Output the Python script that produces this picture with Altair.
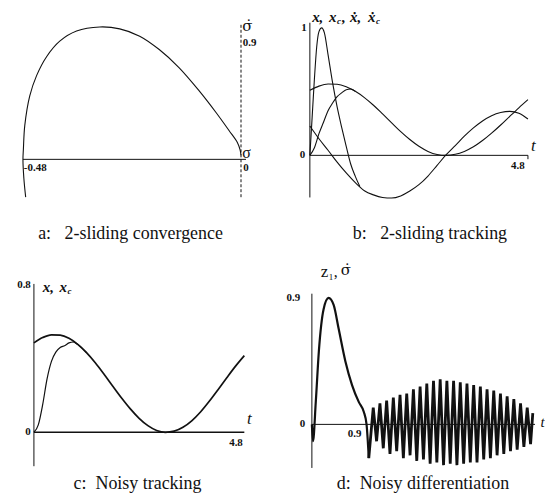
import altair as alt
import pandas as pd

FONT = "Liberation Serif"
MARK_FONT = "DejaVu Serif"

# ---------------- panel a: phase trajectory (sigma, sigma_dot)
a_sigma = [-0.474, -0.478, -0.480, -0.479, -0.476, -0.465, -0.450, -0.428, -0.399, -0.362,
           -0.311, -0.267, -0.223, -0.180, -0.136, -0.092, -0.055, -0.026, -0.008, -0.002, 0.0]
a_sdot = [-0.28, -0.14, 0.0, 0.076, 0.25, 0.47, 0.62, 0.76, 0.875, 0.95,
          0.98, 0.966, 0.912, 0.813, 0.678, 0.507, 0.347, 0.212, 0.125, 0.07, 0.03]

# ---------------- panel b: 2-sliding tracking
b_t = [0.0, 0.2, 0.4, 0.6, 0.8, 1.0, 1.2, 1.4, 1.6, 1.8, 2.0, 2.2, 2.4, 2.6, 2.8, 3.0,
       3.2, 3.4, 3.6, 3.8, 4.0, 4.2, 4.4, 4.6, 4.8]
b_xc = [0.511, 0.543, 0.559, 0.557, 0.538, 0.502, 0.453, 0.393, 0.325, 0.255, 0.186, 0.124,
        0.071, 0.031, 0.007, 0.000, 0.008, 0.031, 0.067, 0.116, 0.174, 0.238, 0.306, 0.373, 0.437]
b_xcdot = [0.23, 0.13, 0.04, -0.053, -0.138, -0.214, -0.277, -0.31, -0.33, -0.335, -0.318, -0.28,
           -0.23, -0.162, -0.079, 0.005, 0.077, 0.15, 0.215, 0.27, 0.311, 0.336, 0.345, 0.33, 0.285]
b_x_t = [0.0, 0.1, 0.2, 0.3, 0.4, 0.5, 0.6, 0.7, 0.8, 0.9, 1.0]
b_x = [0.0, 0.06, 0.17, 0.26, 0.35, 0.41, 0.46, 0.49, 0.515, 0.52, 0.502]
b_xdot_t = [0.0, 0.05, 0.1, 0.15, 0.2, 0.26, 0.32, 0.4, 0.5, 0.6, 0.7, 0.8, 0.9, 1.0, 1.1]
b_xdot = [0.0, 0.3, 0.6, 0.85, 0.97, 1.0, 0.96, 0.79, 0.57, 0.38, 0.22, 0.07, -0.07, -0.165, -0.245]

# ---------------- panel c: noisy tracking
c_t = b_t
c_xc = [0.485, 0.514, 0.529, 0.527, 0.510, 0.477, 0.432, 0.377, 0.315, 0.250, 0.186, 0.127,
        0.076, 0.036, 0.010, 0.000, 0.006, 0.027, 0.062, 0.110, 0.168, 0.231, 0.296, 0.359, 0.416]
c_x_t = [0.0, 0.1, 0.2, 0.3, 0.4, 0.5, 0.6, 0.7, 0.8, 0.9, 1.0, 1.2]
c_x = [0.0, 0.04, 0.15, 0.29, 0.385, 0.435, 0.46, 0.47, 0.485, 0.49, 0.477, 0.432]

# ---------------- panel d: noisy differentiation
d_t = [0, 0.02, 0.07, 0.125, 0.21, 0.30, 0.39, 0.48, 0.60, 0.72, 0.84, 0.93, 0.98, 1.02,
       1.10, 1.16, 1.22, 1.28, 1.34, 1.40, 1.46, 1.52, 1.58, 1.64, 1.70, 1.76, 1.82, 1.88,
       1.94, 2.00, 2.06, 2.12, 2.18, 2.24, 2.30, 2.36, 2.42, 2.48, 2.54, 2.60, 2.66, 2.72,
       2.78, 2.84, 2.90, 2.96, 3.02, 3.08, 3.14, 3.20, 3.26, 3.32, 3.38, 3.44, 3.50, 3.56,
       3.62, 3.68, 3.74, 3.80, 3.86, 3.92, 3.96]
d_v = [0, -0.12, 0.16, 0.52, 0.82, 0.90, 0.85, 0.68, 0.45, 0.28, 0.16, 0.09, 0.0, -0.24,
       0.12, -0.12, 0.15, -0.17, 0.17, -0.21, 0.19, -0.19, 0.21, -0.24, 0.22, -0.22, 0.25,
       -0.26, 0.27, -0.25, 0.29, -0.28, 0.31, -0.27, 0.32, -0.29, 0.31, -0.28, 0.31, -0.29,
       0.30, -0.28, 0.29, -0.27, 0.28, -0.27, 0.27, -0.25, 0.25, -0.24, 0.24, -0.22, 0.22,
       -0.21, 0.20, -0.19, 0.18, -0.18, 0.15, -0.16, 0.12, -0.14, 0.08]
D_SMOOTH_END = 14

NB = "\u00a0"
SIGMA_DOT = "σ\u0307"
CAPTIONS = ["a:" + NB * 3 + "2-sliding convergence", "b:" + NB * 3 + "2-sliding tracking",
            "c:" + NB * 2 + "Noisy tracking", "d:" + NB * 2 + "Noisy differentiation"]


def sc(lo, hi):
    return alt.Scale(domain=[lo, hi], nice=False, zero=False)


def curve(t, v, xs, ys, width=1.1, interp="monotone"):
    df = pd.DataFrame({"x": t, "y": v, "i": list(range(len(t)))})
    return alt.Chart(df).mark_line(color="#111", strokeWidth=width, interpolate=interp).encode(
        x=alt.X("x:Q", scale=xs, axis=None),
        y=alt.Y("y:Q", scale=ys, axis=None),
        order="i:Q")


def hrule(x1, x2, y, xs, ys, dash=None, width=1.0):
    df = pd.DataFrame({"x": [x1], "x2": [x2], "y": [y]})
    kw = dict(color="#111", strokeWidth=width)
    if dash:
        kw["strokeDash"] = dash
    return alt.Chart(df).mark_rule(**kw).encode(
        x=alt.X("x:Q", scale=xs, axis=None), x2="x2:Q",
        y=alt.Y("y:Q", scale=ys, axis=None))


def vrule(x, y1, y2, xs, ys, dash=None, width=1.0):
    df = pd.DataFrame({"x": [x], "y": [y1], "y2": [y2]})
    kw = dict(color="#111", strokeWidth=width)
    if dash:
        kw["strokeDash"] = dash
    return alt.Chart(df).mark_rule(**kw).encode(
        x=alt.X("x:Q", scale=xs, axis=None),
        y=alt.Y("y:Q", scale=ys, axis=None), y2="y2:Q")


def label(x, y, text, xs, ys, size=11, weight="bold", style="normal", align="left",
          dx=0, dy=0, font=FONT):
    df = pd.DataFrame({"x": [x], "y": [y], "t": [text]})
    return alt.Chart(df).mark_text(font=font, fontSize=size, fontWeight=weight, fontStyle=style,
                                   align=align, baseline="middle", dx=dx, dy=dy,
                                   color="#111").encode(
        x=alt.X("x:Q", scale=xs, axis=None),
        y=alt.Y("y:Q", scale=ys, axis=None),
        text="t:N")


def caption(text, offset, dx):
    return alt.TitleParams(text=text, orient="bottom", anchor="middle", font=FONT,
                           fontSize=18, fontWeight="normal", color="#111",
                           offset=offset, dx=dx)


# ---------- panel a
xa, ya = sc(-0.5129, 0.0573), sc(-0.317, 1.099)
pa = alt.layer(
    hrule(-0.48, 0.011, 0, xa, ya),
    vrule(0, -0.28, 1.01, xa, ya, dash=[3, 2]),
    curve(a_sigma, a_sdot, xa, ya, width=1.1, interp="catmull-rom"),
    label(0.004, 0.86, "0.9", xa, ya),
    label(-0.478, -0.066, "-0.48", xa, ya),
    label(0.005, -0.066, "0", xa, ya),
    label(0.003, 0.05, "σ", xa, ya, size=16, weight="normal"),
    label(0.003, 0.99, SIGMA_DOT, xa, ya, size=15, weight="normal", font=MARK_FONT),
).properties(width=260, height=192, title=caption(CAPTIONS[0], 23, -7))

# ---------- panel b
xb, yb = sc(-0.7675, 5.1316), sc(-0.3672, 1.1328)
pb = alt.layer(
    hrule(0, 4.8, 0, xb, yb),
    vrule(0, -0.33, 1.04, xb, yb),
    vrule(4.8, 0, -0.03, xb, yb),
    curve(b_t, b_xc, xb, yb),
    curve(b_t, b_xcdot, xb, yb),
    curve(b_x_t, b_x, xb, yb),
    curve(b_xdot_t, b_xdot, xb, yb),
    label(-0.07, 1.0, "1", xb, yb, align="right"),
    label(-0.1, 0.0, "0", xb, yb, align="right"),
    label(4.58, -0.08, "4.8", xb, yb, align="center"),
    label(4.87, 0.07, "t", xb, yb, size=17, weight="normal", style="italic"),
    label(0.05, 1.086, "x,", xb, yb, size=15, style="italic"),
    label(0.05, 1.086, "x", xb, yb, size=15, style="italic", dx=17),
    label(0.05, 1.086, "c", xb, yb, size=9, style="italic", dx=25, dy=4),
    label(0.05, 1.086, ",", xb, yb, size=15, style="italic", dx=30),
    label(0.05, 1.086, "ẋ,", xb, yb, size=15, style="italic", dx=38),
    label(0.05, 1.086, "ẋ", xb, yb, size=15, style="italic", dx=56),
    label(0.05, 1.086, "c", xb, yb, size=9, style="italic", dx=64, dy=4),
).properties(width=269, height=192, title=caption(CAPTIONS[1], 23, 21))

# ---------- panel c
xc, yc = sc(-0.591, 5.318), sc(-0.211, 0.935)
pc = alt.layer(
    hrule(0, 4.8, 0, xc, yc, width=1.4),
    vrule(0, -0.184, 0.805, xc, yc),
    curve(c_t, c_xc, xc, yc, width=1.7),
    curve(c_x_t, c_x, xc, yc, width=1.2),
    label(-0.07, 0.8, "0.8", xc, yc, align="right"),
    label(-0.07, 0.0, "0", xc, yc, align="right"),
    label(4.61, -0.06, "4.8", xc, yc, align="center"),
    label(4.86, 0.07, "t", xc, yc, size=17, weight="normal", style="italic"),
    label(0.2, 0.79, "x,", xc, yc, size=15, style="italic"),
    label(0.2, 0.79, "x", xc, yc, size=15, style="italic", dx=17),
    label(0.2, 0.79, "c", xc, yc, size=9, style="italic", dx=25, dy=4),
).properties(width=260, height=212, title=caption(CAPTIONS[2], 4, 0))

# ---------- panel d
xd, yd = sc(-0.661, 4.143), sc(-0.333, 1.170)
pd_ = alt.layer(
    hrule(0, 4.0, 0, xd, yd),
    vrule(0, -0.31, 0.93, xd, yd),
    curve(d_t[:D_SMOOTH_END], d_v[:D_SMOOTH_END], xd, yd, width=2.2),
    curve(d_t[D_SMOOTH_END - 1:], d_v[D_SMOOTH_END - 1:], xd, yd, width=2.8, interp="linear"),
    label(-0.21, 0.9, "0.9", xd, yd, align="right"),
    label(-0.12, 0.0, "0", xd, yd, align="right"),
    label(0.89, -0.065, "0.9", xd, yd, align="right"),
    label(4.1, 0.02, "t", xd, yd, size=15, weight="normal", style="italic"),
    label(0.16, 1.10, "z", xd, yd, size=17, weight="normal", dy=2),
    label(0.16, 1.10, "1", xd, yd, size=9, weight="normal", dx=8, dy=7),
    label(0.16, 1.10, ",", xd, yd, size=16, weight="normal", dx=13, dy=2),
    label(0.16, 1.10, SIGMA_DOT, xd, yd, size=15, weight="normal", dx=20, font=MARK_FONT),
).properties(width=269, height=212, title=caption(CAPTIONS[3], 4, 14))

chart = alt.concat(pa, pb, pc, pd_, columns=2, spacing={"row": 58, "column": 8},
                   bounds="flush").properties(
    padding={"left": 0, "top": 0, "right": 0, "bottom": 0},
    background="white",
).configure_view(strokeWidth=0)

chart.save("out.html", embed_options={"renderer": "svg", "actions": False})
